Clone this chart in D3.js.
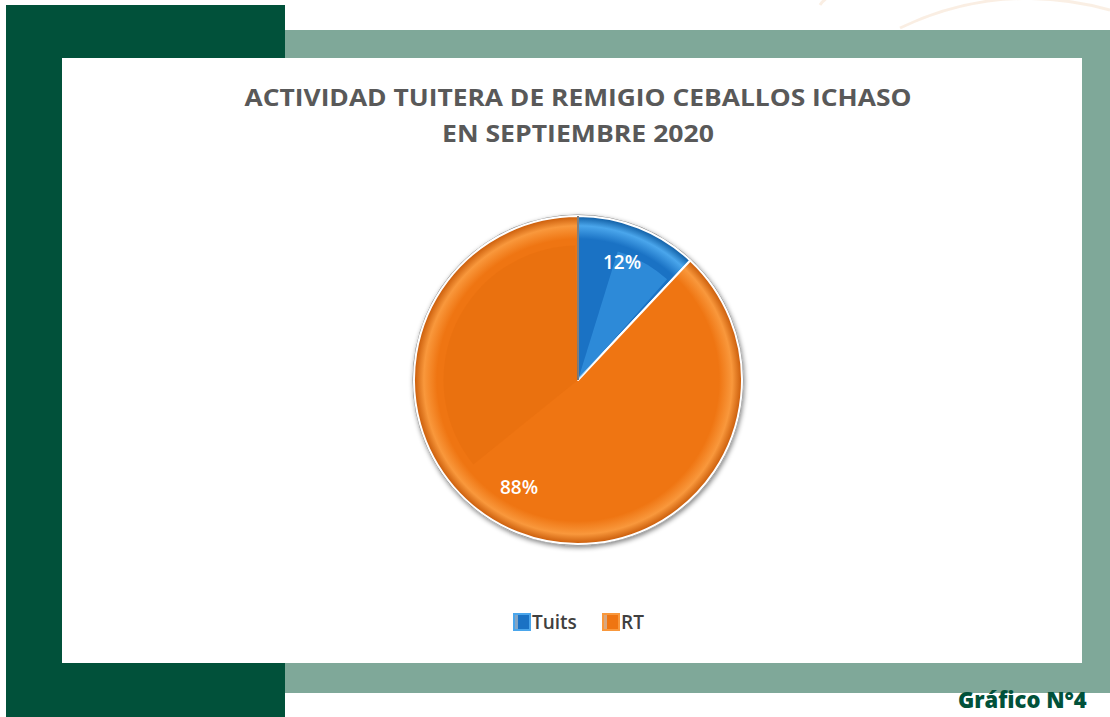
<!DOCTYPE html>
<html>
<head>
<meta charset="utf-8">
<script src="https://cdn.jsdelivr.net/npm/d3@7"></script>
<style>
  body { margin: 0; background: #ffffff; }
  svg { display: block; }
</style>
</head>
<body>
<svg id="chart" width="1110" height="717"></svg>
<script>
(function(){
    "use strict";

    var categories = ["Tuits", "RT"];
    var shares = [12, 88];
    var labels = ["12%", "88%"];
    var titleLines = ["ACTIVIDAD TUITERA DE REMIGIO CEBALLOS ICHASO", "EN SEPTIEMBRE 2020"];
    var footer = "Gráfico N°4";

    var colorBase = d3.scaleOrdinal().domain(categories).range(["#1a72c4", "#ef7512"]);
    var colorDark = d3.scaleOrdinal().domain(categories).range(["#0d5aa0", "#c85a08"]);
    var colorLight = d3.scaleOrdinal().domain(categories).range(["#4aa6ec", "#f9983c"]);

    var svg = d3.select("#chart");
    var defs = svg.append("defs");

    // frame
    svg.append("rect").attr("x", 6).attr("y", 5).attr("width", 279).attr("height", 712).attr("fill", "#01513a");
    svg.append("rect").attr("x", 285).attr("y", 30).attr("width", 825).attr("height", 663).attr("fill", "#7fa899");
    svg.append("rect").attr("x", 62).attr("y", 58).attr("width", 1020).attr("height", 605).attr("fill", "#ffffff");

    // faint decorative arcs top right
    var deco = svg.append("g").attr("fill", "none").attr("stroke", "#f8e8d8").attr("stroke-width", 3).attr("opacity", 0.7);
    deco.append("path").attr("d", "M 820 5 Q 830 -10 860 -10");
    deco.append("path").attr("d", "M 900 28 Q 1000 -20 1110 10");

    // title
    var title = svg.append("g").attr("font-family", "'Open Sans', sans-serif")
        .attr("font-weight", 700).attr("fill", "#595959").attr("text-anchor", "middle");
    title.selectAll("text").data(titleLines).enter().append("text")
        .attr("x", 578)
        .attr("y", function(d, i){ return 106 + i * 36; })
        .attr("font-size", 23)
        .attr("textLength", function(d, i){ return i === 0 ? 667 : 272; })
        .attr("lengthAdjust", "spacingAndGlyphs")
        .text(function(d){ return d; });

    // pie
    var cx = 578, cy = 380, r = 164;
    var pie = d3.pie().sort(null).value(function(d){ return d; });
    var arcs = pie(shares);
    var arc = d3.arc().innerRadius(0).outerRadius(r);

    var shadow = defs.append("filter").attr("id", "shadow").attr("x", "-20%").attr("y", "-20%").attr("width", "140%").attr("height", "140%");
    shadow.append("feGaussianBlur").attr("in", "SourceAlpha").attr("stdDeviation", 2.5);
    shadow.append("feOffset").attr("dx", 1).attr("dy", 2).attr("result", "b");
    shadow.append("feComponentTransfer").append("feFuncA").attr("type", "linear").attr("slope", 0.5);
    var merge = shadow.append("feMerge");
    merge.append("feMergeNode");
    merge.append("feMergeNode").attr("in", "SourceGraphic");

    // gradients are in the translated pie group's user space, so centre at 0,0
    categories.forEach(function(c, i){
        var g = defs.append("radialGradient").attr("id", "grad" + i)
            .attr("gradientUnits", "userSpaceOnUse")
            .attr("cx", 0).attr("cy", 0).attr("r", r);
        g.append("stop").attr("offset", "0%").attr("stop-color", colorBase(c));
        g.append("stop").attr("offset", "86%").attr("stop-color", colorBase(c));
        g.append("stop").attr("offset", "94%").attr("stop-color", colorLight(c));
        g.append("stop").attr("offset", "100%").attr("stop-color", colorDark(c));
    });

    var pg = svg.append("g").attr("transform", "translate(" + cx + "," + cy + ")");
    pg.append("circle").attr("r", r + 1.5).attr("fill", "#8a8a8a").attr("filter", "url(#shadow)");
    pg.selectAll("path.slice").data(arcs).enter().append("path")
        .attr("class", "slice")
        .attr("d", arc)
        .attr("fill", function(d, i){ return "url(#grad" + i + ")"; })
        .attr("stroke", "#ffffff")
        .attr("stroke-width", 2)
        .attr("stroke-linejoin", "round");

    // facet highlights as in the bevelled original
    var facet = d3.arc().innerRadius(0).outerRadius(r * 0.82);
    pg.append("path")
        .attr("d", facet({startAngle: arcs[0].startAngle + 0.3, endAngle: arcs[0].endAngle - 0.03}))
        .attr("fill", "#3e9fe9").attr("opacity", 0.55);
    pg.append("path")
        .attr("d", facet({startAngle: arcs[1].endAngle - 2.25, endAngle: arcs[1].endAngle - 0.02}))
        .attr("fill", "#e36a0c").attr("opacity", 0.35);
    pg.append("line").attr("x1", 0).attr("y1", 0).attr("x2", 0).attr("y2", -r)
        .attr("stroke", "#555555").attr("stroke-width", 1.5);

    // data labels
    var labelPos = [[44, -118], [-59, 107]];
    pg.selectAll("text.lbl").data(arcs).enter().append("text")
        .attr("class", "lbl")
        .attr("x", function(d, i){ return labelPos[i][0]; })
        .attr("y", function(d, i){ return labelPos[i][1]; })
        .attr("text-anchor", "middle")
        .attr("dominant-baseline", "central")
        .attr("font-family", "'Open Sans', sans-serif")
        .attr("font-weight", 600)
        .attr("font-size", 19)
        .attr("fill", "#ffffff")
        .text(function(d, i){ return labels[i]; });

    // legend
    var legendX = [514, 603];
    var lg = svg.append("g");
    var items = lg.selectAll("g").data(categories).enter().append("g")
        .attr("transform", function(d, i){ return "translate(" + legendX[i] + ",614)"; });
    items.append("rect").attr("width", 16).attr("height", 16)
        .attr("fill", function(d){ return colorBase(d); })
        .attr("stroke", function(d){ return colorLight(d); }).attr("stroke-width", 2);
    items.append("rect").attr("x", 1).attr("y", 1).attr("width", 3).attr("height", 14)
        .attr("fill", "#c8c8c8").attr("opacity", 0.6);
    items.append("text")
        .attr("x", 18).attr("y", 8)
        .attr("dominant-baseline", "central")
        .attr("font-family", "'Open Sans', sans-serif")
        .attr("font-weight", 600)
        .attr("font-size", 19)
        .attr("fill", "#404040")
        .text(function(d){ return d; });

    // footer
    svg.append("text")
        .attr("x", 958).attr("y", 708)
        .attr("font-family", "'Open Sans', sans-serif")
        .attr("font-weight", 800)
        .attr("font-size", 22)
        .attr("fill", "#01513a")
        .text(footer);
}());
</script>
</body>
</html>
